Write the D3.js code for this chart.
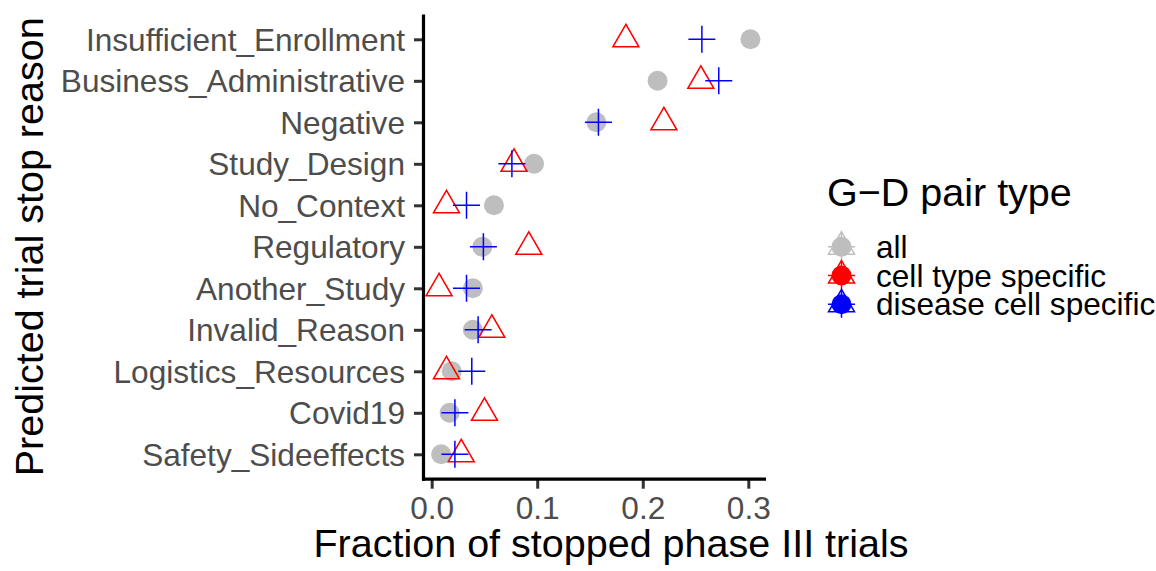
<!DOCTYPE html>
<html>
<head>
<meta charset="utf-8">
<script src="https://cdn.jsdelivr.net/npm/d3@7"></script>
<style>
  html, body { margin: 0; padding: 0; background: #fff; }
  svg { display: block; font-family: "Liberation Sans", Arial, Helvetica, sans-serif; }
</style>
</head>
<body>
<svg id="chart" width="1156" height="571"></svg>
<script>
// ---- data ----
const categories = [
  "Insufficient_Enrollment", "Business_Administrative", "Negative", "Study_Design",
  "No_Context", "Regulatory", "Another_Study", "Invalid_Reason",
  "Logistics_Resources", "Covid19", "Safety_Sideeffects"
];
const allValues          = [0.302, 0.214, 0.156, 0.097, 0.059, 0.048, 0.039, 0.039, 0.019, 0.017, 0.009];
const cellTypeValues     = [0.184, 0.255, 0.220, 0.078, 0.014, 0.092, 0.007, 0.057, 0.014, 0.050, 0.028];
const diseaseCellValues  = [0.256, 0.272, 0.158, 0.076, 0.033, 0.049, 0.033, 0.044, 0.038, 0.022, 0.022];
const xTicks = [0.0, 0.1, 0.2, 0.3];
const seriesNames = ["all", "cell type specific", "disease cell specific"];
const seriesColors = ["#BEBEBE", "#FF0000", "#0000FF"];

const svg = d3.select("#chart");

const panel = { left: 423.5, right: 766, top: 14.4, bottom: 479.2 };

const allVals = allValues.concat(cellTypeValues, diseaseCellValues);
const lo = d3.min(allVals), hi = d3.max(allVals);
const pad = (hi - lo) * 0.05;
const x = d3.scaleLinear().domain([lo - pad, hi + pad]).range([panel.left, panel.right]);
const y = d3.scalePoint().domain(categories).range([panel.top, panel.bottom]).padding(0.6);

const circleR = 10;
const triSide = 26;
const plusHalf = 13.5;
const triPath = d3.symbol().type(d3.symbolTriangle).size(Math.sqrt(3) / 4 * triSide * triSide);

// ---- marks ----
const g = svg.append("g");

function drawCircle(sel, cx, cy, color) {
  sel.append("circle").attr("cx", cx).attr("cy", cy).attr("r", circleR).attr("fill", color);
}
function drawTriangle(sel, cx, cy, color) {
  // equilateral triangle centred on circumcentre
  const h = triSide * Math.sqrt(3) / 2;
  const pts = [[cx, cy - 2 * h / 3], [cx - triSide / 2, cy + h / 3], [cx + triSide / 2, cy + h / 3]];
  sel.append("path").attr("d", d3.line()(pts) + "Z")
    .attr("fill", "none").attr("stroke", color).attr("stroke-width", 1.5).attr("stroke-linejoin", "miter");
}
function drawPlus(sel, cx, cy, color) {
  sel.append("path")
    .attr("d", `M${cx - plusHalf},${cy}H${cx + plusHalf}M${cx},${cy - plusHalf}V${cy + plusHalf}`)
    .attr("stroke", color).attr("stroke-width", 1.5).attr("fill", "none");
}

categories.forEach((c, i) => drawCircle(g, x(allValues[i]), y(c), seriesColors[0]));
categories.forEach((c, i) => drawTriangle(g, x(cellTypeValues[i]), y(c), seriesColors[1]));
categories.forEach((c, i) => drawPlus(g, x(diseaseCellValues[i]), y(c), seriesColors[2]));

// ---- axes ----
const tickColor = "#333333";
const labelColor = "#4D4D4D";

const yAxis = d3.axisLeft(y).tickSize(9.5).tickPadding(9);
const yg = svg.append("g").attr("transform", `translate(${panel.left},0)`).call(yAxis);
yg.select(".domain").remove();
yg.selectAll(".tick line").attr("stroke", tickColor).attr("stroke-width", 3);
yg.selectAll(".tick text").attr("fill", labelColor).attr("font-size", 31.6)
  .attr("font-family", "Liberation Sans, Arial, sans-serif").attr("dy", "0.35em");

const xAxis = d3.axisBottom(x).tickValues(xTicks).tickFormat(d3.format(".1f")).tickSize(9.5).tickPadding(8);
const xg = svg.append("g").attr("transform", `translate(0,${panel.bottom})`).call(xAxis);
xg.select(".domain").remove();
xg.selectAll(".tick line").attr("stroke", tickColor).attr("stroke-width", 3);
xg.selectAll(".tick text").attr("fill", labelColor).attr("font-size", 31.6)
  .attr("font-family", "Liberation Sans, Arial, sans-serif").attr("dy", "0.71em");

// axis lines
svg.append("line").attr("x1", panel.left).attr("x2", panel.left).attr("y1", panel.top).attr("y2", panel.bottom + 1.5)
  .attr("stroke", "#000").attr("stroke-width", 3.2);
svg.append("line").attr("x1", panel.left - 1.5).attr("x2", panel.right).attr("y1", panel.bottom).attr("y2", panel.bottom)
  .attr("stroke", "#000").attr("stroke-width", 3.2);

// axis titles
svg.append("text").attr("x", 611).attr("y", 557).attr("text-anchor", "middle")
  .attr("font-size", 39.5).attr("fill", "#000").text("Fraction of stopped phase III trials");
svg.append("text").attr("transform", `translate(43,${(panel.top + panel.bottom) / 2}) rotate(-90)`)
  .attr("text-anchor", "middle").attr("font-size", 39.5).attr("fill", "#000").text("Predicted trial stop reason");

// ---- legend ----
const leg = svg.append("g");
leg.append("text").attr("x", 827).attr("y", 206).attr("font-size", 39.5).attr("fill", "#000").text("G\u2212D pair type");
const keyY = [246.7, 275.5, 304.3];
seriesNames.forEach((name, i) => {
  const kx = 841.5, ky = keyY[i];
  const kg = leg.append("g");
  drawTriangle(kg, kx, ky, seriesColors[i]);
  drawCircle(kg, kx, ky, seriesColors[i]);
  drawPlus(kg, kx, ky, seriesColors[i]);
  leg.append("text").attr("x", 876).attr("y", ky).attr("dy", "0.35em")
    .attr("font-size", 31.6).attr("fill", "#000").text(name);
});
</script>
</body>
</html>
